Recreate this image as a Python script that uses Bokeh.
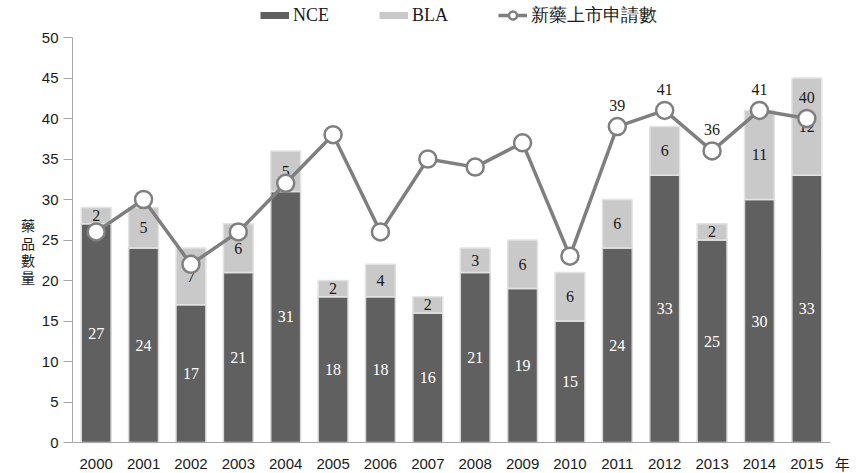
from bokeh.plotting import figure
from bokeh.models import (ColumnDataSource, Range1d, Legend, LegendItem,
                          Label, FixedTicker)
from bokeh.core.properties import value
from bokeh.embed import file_html
from bokeh.resources import INLINE

years = ["2000", "2001", "2002", "2003", "2004", "2005", "2006", "2007",
         "2008", "2009", "2010", "2011", "2012", "2013", "2014", "2015"]
nce = [27, 24, 17, 21, 31, 18, 18, 16, 21, 19, 15, 24, 33, 25, 30, 33]
bla = [2, 5, 7, 6, 5, 2, 4, 2, 3, 6, 6, 6, 6, 2, 11, 12]
nda = [26, 30, 22, 26, 32, 38, 26, 35, 34, 37, 23, 39, 41, 36, 41, 40]
nda_labeled_years = ["2011", "2012", "2013", "2014", "2015"]
y_ticks = [0, 5, 10, 15, 20, 25, 30, 35, 40, 45, 50]

DARK = "#606060"
LIGHT = "#c9c9c9"
LINE = "#7f7f7f"
SERIF = "Liberation Serif"
SANS = "Liberation Sans"
CJK = "Noto Sans CJK TC"

xi = list(range(len(years)))
nan = float("nan")
src = ColumnDataSource(dict(
    x=xi, nce=nce, bla=bla,
    top=[a + b for a, b in zip(nce, bla)],
    nce_mid=[a / 2 for a in nce],
    bla_mid=[a + b / 2 for a, b in zip(nce, bla)],
    nce_txt=[str(a) for a in nce],
    bla_txt=[str(b) for b in bla],
    nda=nda,
    hidden=[nan] * len(xi),
))
lab_idx = [years.index(y) for y in nda_labeled_years]
lab_src = ColumnDataSource(dict(
    x=lab_idx,
    nda=[nda[i] for i in lab_idx],
    txt=[str(nda[i]) for i in lab_idx],
))

W, H = 856, 473
PX_X = 47.375   # px per category
PX_Y = 8.1      # px per unit
AX_LEFT, AX_ZERO = 72, 442
x0 = -0.5 - AX_LEFT / PX_X
x1 = x0 + W / PX_X
y1 = AX_ZERO / PX_Y
y0 = y1 - H / PX_Y

p = figure(width=W, height=H, x_range=Range1d(x0, x1), y_range=Range1d(y0, y1),
           output_backend="svg", toolbar_location=None,
           min_border_left=0, min_border_right=0, min_border_top=0, min_border_bottom=0)
p.outline_line_color = None
p.xgrid.grid_line_color = None
p.ygrid.grid_line_color = None
p.background_fill_color = "white"

# bars
p.vbar(x="x", bottom=0, top="nce", width=0.63, source=src,
       fill_color=DARK, line_color="#d9d9d9", line_width=1.5)
p.vbar(x="x", bottom="nce", top="top", width=0.63, source=src,
       fill_color=LIGHT, line_color="#e3e3e3", line_width=1.5)

# bar labels
p.text(x="x", y="nce_mid", text="nce_txt", source=src, text_color="white",
       text_font=value(SERIF), text_font_size="16px", text_align="center",
       text_baseline="middle")
p.text(x="x", y="bla_mid", text="bla_txt", source=src, text_color="#1a1a1a",
       text_font=value(SERIF), text_font_size="16px", text_align="center",
       text_baseline="middle")

# line
lr = p.line(x="x", y="nda", source=src, line_color=LINE, line_width=3.5)
sr = p.scatter(x="x", y="nda", source=src, size=17, fill_color="white",
               line_color=LINE, line_width=2.5)
p.text(x="x", y="nda", text="txt", source=lab_src, text_color="#1a1a1a",
       text_font=value(SERIF), text_font_size="16px", text_align="center",
       text_baseline="middle", y_offset=-21)

# legend swatches (drawn only in the legend; y values are NaN)
nce_proxy = p.line(x="x", y="hidden", source=src, line_color=DARK, line_width=7)
bla_proxy = p.line(x="x", y="hidden", source=src, line_color=LIGHT, line_width=7)
legend = Legend(items=[
    LegendItem(label="NCE", renderers=[nce_proxy]),
    LegendItem(label="BLA", renderers=[bla_proxy]),
    LegendItem(label="新藥上市申請數", renderers=[lr, sr]),
], orientation="horizontal", location=(260, H - 27), spacing=50, label_standoff=4,
    glyph_width=29, glyph_height=20, label_height=20, padding=0, margin=0,
    border_line_color=None, background_fill_alpha=0,
    label_text_font=SERIF, label_text_font_size="18px", label_text_color="#1a1a1a")
p.add_layout(legend)

# axes (fixed inside the frame)
p.yaxis.fixed_location = -0.5
p.yaxis.bounds = (0, 50)
p.yaxis.ticker = FixedTicker(ticks=y_ticks)
p.yaxis.axis_line_color = "#a6a6a6"
p.yaxis.major_tick_line_color = "#a6a6a6"
p.yaxis.major_tick_out = 9
p.yaxis.major_tick_in = 0
p.yaxis.minor_tick_line_color = None
p.yaxis.major_label_standoff = 5
p.yaxis.major_label_text_font = SANS
p.yaxis.major_label_text_font_size = "15px"
p.yaxis.major_label_text_color = "#1a1a1a"

p.xaxis.fixed_location = 0
p.xaxis.bounds = (-0.5, len(years) - 0.5)
p.xaxis.ticker = FixedTicker(ticks=xi)
p.xaxis.major_label_overrides = {i: y for i, y in zip(xi, years)}
p.xaxis.axis_line_color = "#a6a6a6"
p.xaxis.major_tick_line_color = None
p.xaxis.major_tick_out = 0
p.xaxis.major_tick_in = 0
p.xaxis.minor_tick_line_color = None
p.xaxis.major_label_standoff = 16
p.xaxis.major_label_text_font = SANS
p.xaxis.major_label_text_font_size = "15px"
p.xaxis.major_label_text_color = "#1a1a1a"

# y-axis title, stacked vertically
for i, ch in enumerate("藥品數量"):
    p.add_layout(Label(x=-1.44, y=26.8 - 2.13 * i, text=ch,
                       text_font=CJK, text_font_size="14px",
                       text_color="#1a1a1a", text_align="center", text_baseline="middle"))
# x-axis unit
p.add_layout(Label(x=15.75, y=-2.6, text="年", text_font=CJK,
                   text_font_size="15px", text_color="#1a1a1a", text_align="center",
                   text_baseline="middle"))

open("out.html", "w").write(file_html(p, INLINE))
